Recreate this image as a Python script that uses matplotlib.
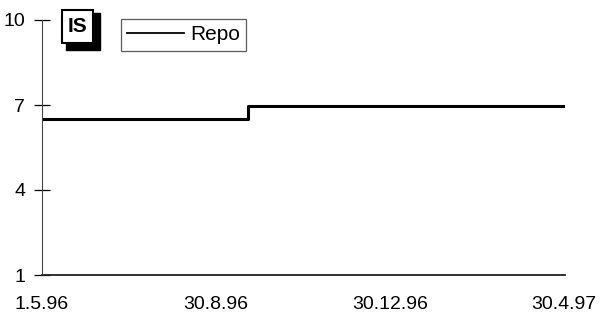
import matplotlib
matplotlib.use("Agg")
import matplotlib.pyplot as plt
import matplotlib.dates as mdates
from matplotlib.patches import Rectangle
import datetime as dt

plt.rcParams['font.family'] = ['Liberation Sans', 'DejaVu Sans']

dates = [dt.date(1996, 5, 1), dt.date(1996, 9, 22), dt.date(1997, 5, 1)]
repo = [6.5, 6.95, 6.95]
tick_dates = [dt.date(1996, 5, 1), dt.date(1996, 8, 30), dt.date(1996, 12, 30), dt.date(1997, 4, 30)]
tick_labels = ["1.5.96", "30.8.96", "30.12.96", "30.4.97"]
y_ticks = [1, 4, 7, 10]

W, H = 604, 322
fig = plt.figure(figsize=(W/100, H/100), dpi=100)
L, R, T, B = 42, 565, 20, 275
ax = fig.add_axes([L/W, 1 - B/H, (R-L)/W, (B-T)/H])
ax.step(dates, repo, where='post', color='black', lw=2.2, label='Repo')
ax.set_xlim(dates[0], dates[-1])
ax.set_ylim(1, 10)
ax.set_yticks(y_ticks)
ax.set_yticklabels([str(v) for v in y_ticks], fontsize=14)
ax.set_xticks([mdates.date2num(d) for d in tick_dates])
ax.set_xticklabels(tick_labels, fontsize=14)
ax.tick_params(axis='x', length=0, pad=15)
ax.tick_params(axis='y', direction='inout', length=12, width=0.9, pad=6, colors='black')
for s in ['top', 'right']:
    ax.spines[s].set_visible(False)
ax.spines['left'].set_linewidth(0.8)
ax.spines['left'].set_color('#444444')
ax.spines['bottom'].set_linewidth(1.3)
ax.spines['bottom'].set_color('#222222')

leg = ax.legend(loc='upper left', bbox_to_anchor=((121-L)/(R-L), 1 - (19-T)/(B-T)), frameon=True,
                fancybox=False, fontsize=15, handlelength=2.7, borderpad=0.3, handletextpad=0.3,
                borderaxespad=0)
leg.get_frame().set_edgecolor('#333333')
leg.get_frame().set_linewidth(0.9)
for l in leg.get_lines():
    l.set_linewidth(1.3)

# IS box with shadow
fig.patches.append(Rectangle((66/W, 1 - 50/H), 34/W, 37/H, transform=fig.transFigure,
                             facecolor='black', edgecolor='black'))
fig.patches.append(Rectangle((62/W, 1 - 43/H), 31/W, 33/H, transform=fig.transFigure,
                             facecolor='white', edgecolor='black', lw=1.5))
fig.text(77.5/W, 1 - 26.5/H, "IS", ha='center', va='center', fontsize=15, fontweight='bold')

fig.savefig("out.png", dpi=100)
